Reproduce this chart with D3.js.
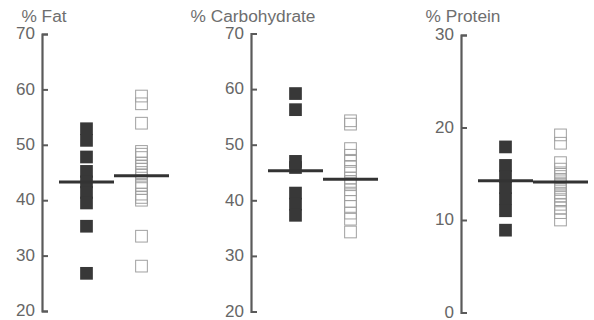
<!DOCTYPE html>
<html><head><meta charset="utf-8">
<script src="https://cdn.jsdelivr.net/npm/d3@7"></script>
<style>
html,body{margin:0;padding:0;background:#fff;}
svg{display:block;}
</style></head>
<body>
<svg id="chart" width="594" height="320"></svg>
<script>
// ---- data ----
const panelTitles = ["% Fat", "% Carbohydrate", "% Protein"];
const groups = ["filled", "open"];
const fatFilled = [52.9, 50.8, 47.8, 45.2, 43.3, 41.4, 39.5, 35.3, 26.8];
const fatOpen = [58.8, 57.4, 53.9, 48.8, 48.3, 47.7, 46.7, 46.1, 45.6, 45.0, 44.5, 43.2, 42.7, 42.1, 41.1, 40.5, 40.0, 33.5, 28.1];
const carbFilled = [59.2, 56.3, 47.0, 45.9, 41.3, 39.3, 37.3];
const carbOpen = [54.3, 53.7, 49.3, 48.1, 47.0, 46.1, 45.2, 44.0, 43.4, 42.8, 41.9, 41.0, 39.8, 38.9, 37.7, 36.6, 34.3];
const protFilled = [17.9, 15.9, 14.7, 13.5, 12.3, 11.0, 8.9];
const protOpen = [19.2, 18.3, 16.2, 15.5, 15.1, 14.7, 14.4, 14.0, 13.7, 13.3, 12.9, 12.6, 12.2, 11.7, 11.3, 10.8, 10.0];
const fatMeans = [43.3, 44.4];
const carbMeans = [45.3, 43.8];
const protMeans = [14.25, 14.1];
const fatTicks = [20, 30, 40, 50, 60, 70];
const carbTicks = [20, 30, 40, 50, 60, 70];
const protTicks = [0, 10, 20, 30];

// ---- layout ----
const panels = [
  {title: panelTitles[0], filled: fatFilled, open: fatOpen, means: fatMeans, ticks: fatTicks,
   domain: [20, 70], range: [311, 34], axisX: 42},
  {title: panelTitles[1], filled: carbFilled, open: carbOpen, means: carbMeans, ticks: carbTicks,
   domain: [20, 70], range: [311.5, 33.5], axisX: 251},
  {title: panelTitles[2], filled: protFilled, open: protOpen, means: protMeans, ticks: protTicks,
   domain: [0, 30], range: [312.5, 35], axisX: 461}
];

const svg = d3.select("#chart");
const SQ = 12.7;
const font = "'Liberation Sans', Arial, Helvetica, sans-serif";

panels.forEach(p => {
  const y = d3.scaleLinear().domain(p.domain).range(p.range);
  const x = d3.scalePoint().domain(groups).range([p.axisX + 44.5, p.axisX + 99.5]);
  const g = svg.append("g");

  // title
  g.append("text")
    .attr("x", p.axisX + 2).attr("y", 22)
    .attr("text-anchor", "middle")
    .attr("font-family", font).attr("font-size", 17.3)
    .attr("fill", "#6e6e6e")
    .text(p.title);

  // axis
  const ax = g.append("g").attr("transform", `translate(${p.axisX},0)`)
    .call(d3.axisLeft(y).tickValues(p.ticks).tickFormat(d3.format("d"))
      .tickSizeInner(-6).tickSizeOuter(-6).tickPadding(7));
  ax.select(".domain").attr("stroke", "#5a5a5a").attr("stroke-width", 2.2);
  ax.selectAll(".tick line").attr("stroke", "#5a5a5a").attr("stroke-width", 2);
  ax.selectAll(".tick text").attr("font-family", font).attr("font-size", 17)
    .attr("fill", "#666").attr("dy", "0.28em");

  // filled squares
  g.append("g").selectAll("rect").data(p.filled).join("rect")
    .attr("x", x("filled") - SQ / 2).attr("y", d => y(d) - SQ / 2)
    .attr("width", SQ).attr("height", SQ)
    .attr("fill", "#383838");

  // open squares
  g.append("g").selectAll("rect").data(p.open).join("rect")
    .attr("x", x("open") - SQ / 2 + 0.5).attr("y", d => y(d) - SQ / 2 + 0.5)
    .attr("width", SQ - 1).attr("height", SQ - 1)
    .attr("fill", "none").attr("stroke", "#a0a0a0").attr("stroke-width", 1);

  // mean lines
  g.append("g").selectAll("line").data(groups).join("line")
    .attr("x1", d => x(d) - 27.5).attr("x2", d => x(d) + 27.5)
    .attr("y1", (d, i) => y(p.means[i])).attr("y2", (d, i) => y(p.means[i]))
    .attr("stroke", "#333").attr("stroke-width", 3);
});
</script>
</body></html>
